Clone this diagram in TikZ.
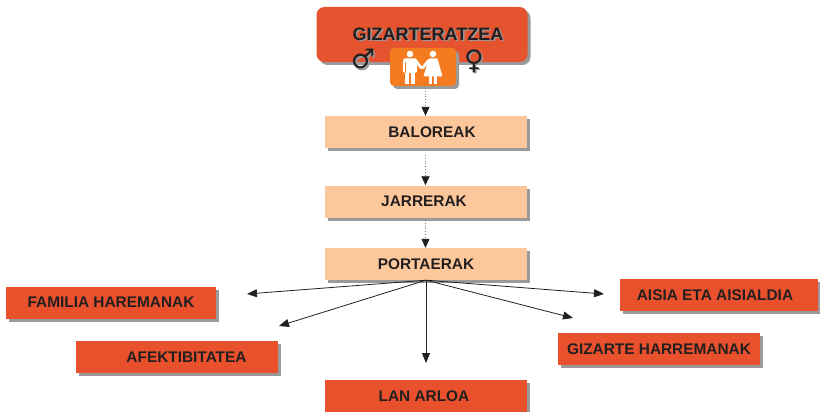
\documentclass[tikz,border=0pt]{standalone}
\usepackage{fontspec}
\setmainfont{Liberation Sans}
\newfontfamily\symfont{DejaVu Sans}
\usetikzlibrary{arrows.meta,shadows}
\definecolor{redc}{HTML}{E9512D}
\definecolor{topc}{HTML}{E5532F}
\definecolor{iconc}{HTML}{F47B20}
\definecolor{peach}{HTML}{FCC79A}
\definecolor{txtc}{HTML}{231F20}
\definecolor{shgrey}{HTML}{9A9A9A}
\tikzset{
  boxshadow/.style={drop shadow={shadow xshift=3pt,shadow yshift=-3pt,fill=shgrey,opacity=1}},
  boxtext/.style={font=\fontsize{15.4}{16}\selectfont\bfseries,text=txtc},
  redbox/.style={rectangle,fill=redc,inner sep=0pt,minimum height=32pt,boxshadow,boxtext},
  peachbox/.style={rectangle,fill=peach,inner sep=0pt,minimum width=202pt,minimum height=32pt,boxshadow,boxtext},
  arr/.style={draw=txtc,line width=0.8pt,-{Triangle[length=10pt,width=8pt]}},
  dotarr/.style={draw=gray,dotted,line width=0.8pt,-{Triangle[length=9pt,width=8pt,color=txtc,fill=txtc]}},
  symb/.style={font=\symfont\fontsize{27}{28}\selectfont\bfseries},
}
\begin{document}
\begin{tikzpicture}[x=1pt,y=-1pt]
\useasboundingbox (0,0) rectangle (820,412);
% top box
\node[rectangle,rounded corners=8pt,fill=topc,minimum width=211pt,minimum height=55pt,inner sep=0pt,boxshadow] (top) at (422,34.5) {};
\node[font=\fontsize{18}{20}\selectfont\bfseries,text=shgrey] (titlesh) at (429.5,35.5) {GIZARTERATZEA};
\node[font=\fontsize{18}{20}\selectfont\bfseries,text=txtc] (title) at (428,34) {GIZARTERATZEA};
\node[symb,text=shgrey] (malesh) at (364.5,60.5) {♂};
\node[symb,text=txtc] (male) at (363,59) {♂};
\node[symb,text=shgrey] (femsh) at (475.5,62.5) {♀};
\node[symb,text=txtc] (fem) at (474,61) {♀};
% icon box
\node[rectangle,rounded corners=4pt,fill=iconc,minimum width=66pt,minimum height=38pt,inner sep=0pt,boxshadow] (icon) at (423,67) {};
% man
\fill[white] (410,54) circle (3.3);
\fill[white,rounded corners=1.5pt] (403,58.5) rectangle (417,73);
\fill[white] (405,71) rectangle (409.4,84);
\fill[white] (410.6,71) rectangle (415,84);
\draw[iconc,line width=0.8pt] (405.3,62) -- (405.3,73);
\draw[white,line width=2.6pt,line cap=round] (415.5,60.5) -- (421.5,68);
% woman
\fill[white] (433,54) circle (3.3);
\fill[white,rounded corners=1pt] (428.5,58.5) -- (437.5,58.5) -- (442.5,76.5) -- (423.5,76.5) -- cycle;
\fill[white] (429.3,76) rectangle (431.6,84);
\fill[white] (434.4,76) rectangle (436.7,84);
\draw[white,line width=2.6pt,line cap=round] (428.5,60.5) -- (422.5,68);
% peach boxes
\node[peachbox] (bal) at (426,132) {\hspace*{12pt}BALOREAK};
\node[peachbox] (jar) at (426,201.5) {\hspace*{-4pt}JARRERAK};
\node[peachbox] (por) at (426,264) {PORTAERAK};
% red boxes
\node[redbox,minimum width=210pt] (fam) at (111,302.5) {FAMILIA HAREMANAK};
\node[redbox,minimum width=202pt] (afe) at (177,357) {\hspace*{19pt}AFEKTIBITATEA};
\node[redbox,minimum width=202pt,anchor=north] (lan) at (426,380) {\hspace*{-4pt}LAN ARLOA};
\node[redbox,minimum width=198pt] (ais) at (719,295) {\hspace*{-8pt}AISIA ETA AISIALDIA};
\node[redbox,minimum width=202pt] (giz) at (659,349) {GIZARTE HARREMANAK};
% free arrow ends
\coordinate (tfam) at (247,294);
\coordinate (tafe) at (279,326);
\coordinate (tlan) at (426,363);
\coordinate (tais) at (604,294);
\coordinate (tgiz) at (573,318);
\coordinate (s1) at (425.5,88);
\coordinate (s2) at (425.5,155);
\coordinate (s3) at (425.5,220);
% connectors
\draw[dotarr] (s1) -- (bal.north -| s1);
\draw[dotarr] (s2) -- (jar.north -| s2);
\draw[dotarr] (s3) -- (por.north -| s3);
\draw[arr] (por.south) -- (tfam);
\draw[arr] (por.south) -- (tafe);
\draw[arr] (por.south) -- (tlan);
\draw[arr] (por.south) -- (tais);
\draw[arr] (por.south) -- (tgiz);
\end{tikzpicture}
\end{document}
